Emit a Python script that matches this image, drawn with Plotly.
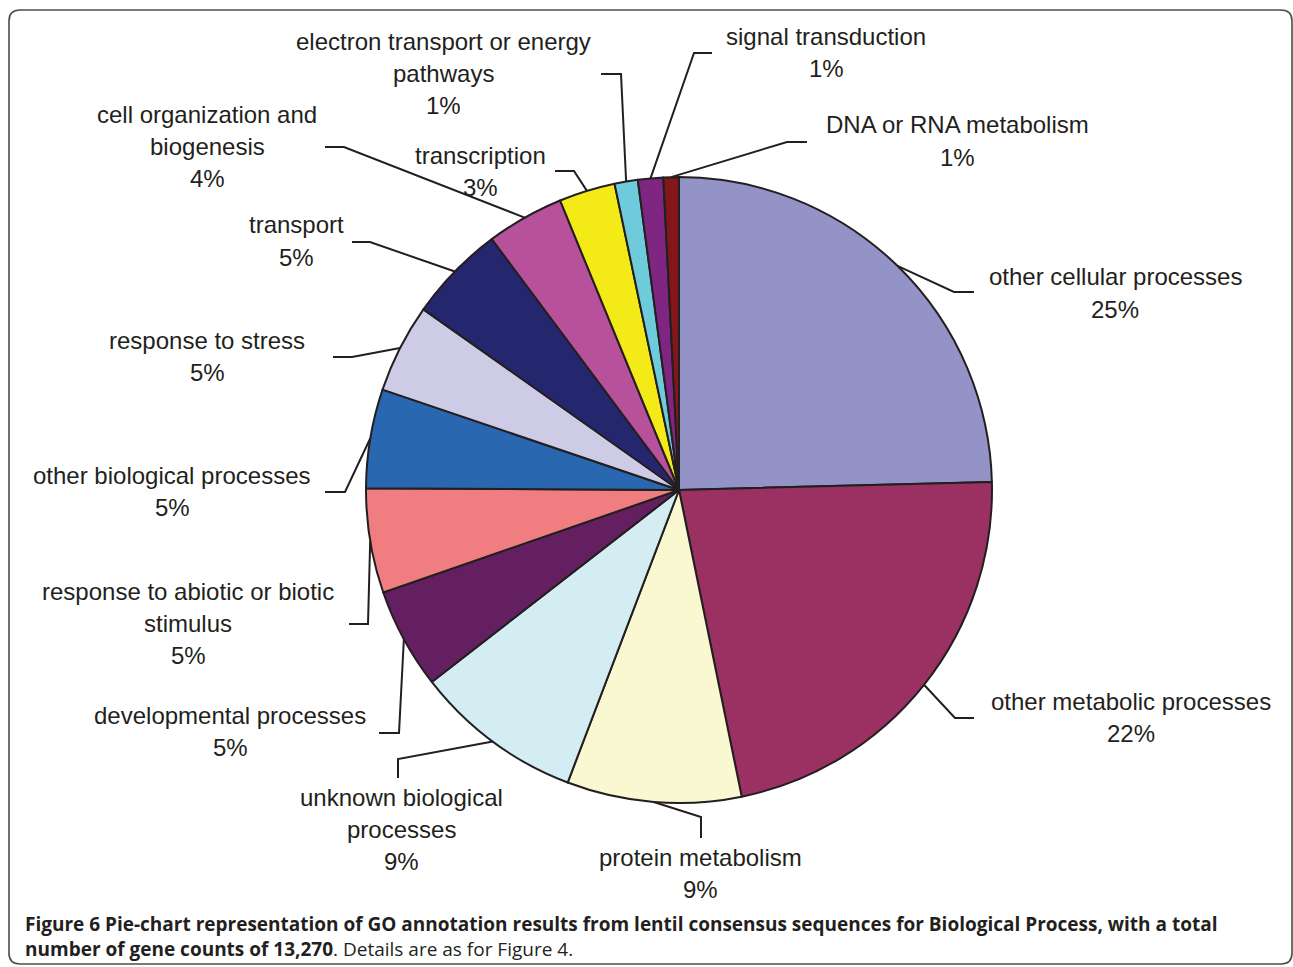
import math
import plotly.graph_objects as go

# ---------------- data ----------------
categories = [
    "other cellular processes", "other metabolic processes", "protein metabolism",
    "unknown biological processes", "developmental processes",
    "response to abiotic or biotic stimulus", "other biological processes",
    "response to stress", "transport", "cell organization and biogenesis",
    "transcription", "electron transport or energy pathways",
    "signal transduction", "DNA or RNA metabolism",
]
gene_counts = [3263, 2946, 1194, 1155, 690, 717, 677, 610, 664, 531, 385, 159, 173, 106]
label_lines = [
    ["other cellular processes"], ["other metabolic processes"], ["protein metabolism"],
    ["unknown biological", "processes"], ["developmental processes"],
    ["response to abiotic or biotic", "stimulus"], ["other biological processes"],
    ["response to stress"], ["transport"], ["cell organization and", "biogenesis"],
    ["transcription"], ["electron transport or energy", "pathways"],
    ["signal transduction"], ["DNA or RNA metabolism"],
]
colors = ["#9393C7", "#9B3163", "#FAF8D0", "#D3EDF3", "#641F60", "#F07E80", "#2968B0",
          "#CDCBE6", "#25276E", "#B8519C", "#F3EA17", "#6ECBDB", "#7F2682", "#82161B"]

# ---------------- layout constants (pixels) ----------------
W, H = 1293, 967
CX, CY, R = 679, 490, 313
label_pos = [(1115, 277), (1131, 701), (701, 857), (401, 797), (230, 715), (188, 591),
             (172, 475), (207, 340), (296, 225), (207, 114), (480, 155), (443, 41),
             (826, 36), (957, 125)]
elbows = [((954, 292), (974, 292)), ((955, 718), (974, 718)), ((701, 817), (701, 838)),
          ((398, 759), (398, 778)), ((399, 733), (379, 733)), ((368, 624), (349, 624)),
          ((345, 492), (325, 492)), ((352, 357), (333, 357)), ((370, 242), (352, 242)),
          ((344, 147), (325, 147)), ((574, 171), (555, 171)), ((621, 74), (601, 74)),
          ((694, 53), (712, 53)), ((787, 142), (807, 142))]
LINE_H = 32.3
TXT = "#231F20"


def px(x):
    return x / W


def py(y):
    return 1 - y / H


fig = go.Figure(go.Pie(
    labels=categories, values=gene_counts, sort=False, direction="clockwise",
    rotation=0, textinfo="none", hoverinfo="label+percent",
    marker=dict(colors=colors, line=dict(color=TXT, width=2)),
    domain=dict(x=[px(CX - R), px(CX + R)], y=[py(CY + R), py(CY - R)]),
    showlegend=False,
))

total = sum(gene_counts)
shapes = []
annotations = []
cum = 0
for i, v in enumerate(gene_counts):
    mid = (cum + v / 2) / total * 2 * math.pi
    cum += v
    ex, ey = CX + R * math.sin(mid), CY - R * math.cos(mid)
    (bx, by), (tx, ty) = elbows[i]
    path = f"M {px(ex)} {py(ey)} L {px(bx)} {py(by)} L {px(tx)} {py(ty)}"
    shapes.append(dict(type="path", xref="paper", yref="paper", path=path,
                       line=dict(color=TXT, width=2)))
    pct = f"{round(100 * v / total)}%"
    lines = label_lines[i] + [pct]
    lx, ly = label_pos[i]
    for j, t in enumerate(lines):
        annotations.append(dict(
            x=px(lx), y=py(ly + j * LINE_H), xref="paper", yref="paper",
            text=t, showarrow=False, xanchor="center", yanchor="middle",
            font=dict(family="Liberation Sans", size=24, color=TXT)))

# frame with rounded corners
x0, y0, x1, y1, rr = 9, 10, 1292, 964, 11
frame = (f"M {px(x0)} {py(y0 + rr)} Q {px(x0)} {py(y0)} {px(x0 + rr)} {py(y0)} "
         f"L {px(x1 - rr)} {py(y0)} Q {px(x1)} {py(y0)} {px(x1)} {py(y0 + rr)} "
         f"L {px(x1)} {py(y1 - rr)} Q {px(x1)} {py(y1)} {px(x1 - rr)} {py(y1)} "
         f"L {px(x0 + rr)} {py(y1)} Q {px(x0)} {py(y1)} {px(x0)} {py(y1 - rr)} Z")
shapes.append(dict(type="path", xref="paper", yref="paper", path=frame,
                   line=dict(color="#4D4D4D", width=1.6)))

cap_font = dict(family="Open Sans", size=19, color=TXT)
annotations.append(dict(
    x=px(23), y=py(924), xref="paper", yref="paper", xanchor="left", yanchor="middle",
    showarrow=False, font=cap_font,
    text="<b>Figure 6 Pie-chart representation of GO annotation results from lentil consensus "
         "sequences for Biological Process, with a total</b>"))
annotations.append(dict(
    x=px(23), y=py(949), xref="paper", yref="paper", xanchor="left", yanchor="middle",
    showarrow=False, font=cap_font,
    text="<b>number of gene counts of 13,270</b>. Details are as for Figure 4."))

fig.update_layout(
    width=W, height=H, margin=dict(l=0, r=0, t=0, b=0),
    paper_bgcolor="white", plot_bgcolor="white",
    shapes=shapes, annotations=annotations,
)
fig.write_html("out.html", config={"displayModeBar": False},
               post_script="document.body.style.margin='0';document.body.style.overflow='hidden';")
